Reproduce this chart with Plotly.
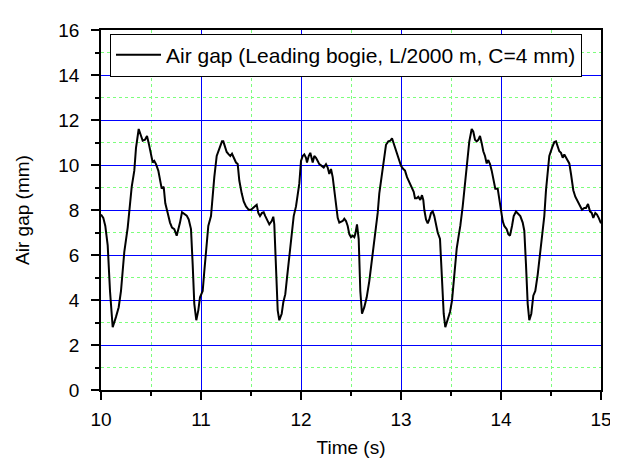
import plotly.graph_objects as go

time_s = [10.000, 10.023, 10.043, 10.067, 10.090, 10.117, 10.150, 10.177, 10.200, 10.233,
          10.267, 10.283, 10.307, 10.333, 10.350, 10.377, 10.400, 10.417, 10.440, 10.460,
          10.477, 10.490, 10.517, 10.533, 10.550, 10.573, 10.593, 10.607, 10.627, 10.643,
          10.667, 10.690, 10.710, 10.733, 10.757, 10.777, 10.790, 10.810, 10.833, 10.857,
          10.877, 10.900, 10.917, 10.933, 10.953, 10.973, 10.990, 11.017, 11.033, 11.050,
          11.073, 11.100, 11.117, 11.133, 11.157, 11.183, 11.210, 11.223, 11.240, 11.257,
          11.277, 11.293, 11.310, 11.327, 11.350, 11.367, 11.383, 11.407, 11.427, 11.450,
          11.477, 11.500, 11.517, 11.540, 11.557, 11.573, 11.590, 11.610, 11.627, 11.643,
          11.667, 11.683, 11.707, 11.723, 11.733, 11.750, 11.767, 11.783, 11.807, 11.823,
          11.843, 11.860, 11.883, 11.907, 11.927, 11.950, 11.973, 11.983, 12.000, 12.017,
          12.033, 12.050, 12.060, 12.077, 12.093, 12.107, 12.117, 12.133, 12.150, 12.167,
          12.183, 12.207, 12.227, 12.250, 12.267, 12.283, 12.300, 12.317, 12.333, 12.350,
          12.367, 12.383, 12.400, 12.417, 12.433, 12.450, 12.467, 12.483, 12.500, 12.517,
          12.533, 12.543, 12.560, 12.577, 12.593, 12.610, 12.633, 12.657, 12.683, 12.717,
          12.743, 12.767, 12.783, 12.807, 12.827, 12.850, 12.873, 12.893, 12.910, 12.927,
          12.943, 12.960, 12.977, 13.000, 13.023, 13.040, 13.060, 13.077, 13.093, 13.110,
          13.127, 13.140, 13.157, 13.173, 13.193, 13.210, 13.223, 13.233, 13.250, 13.267,
          13.283, 13.300, 13.317, 13.333, 13.350, 13.367, 13.390, 13.410, 13.427, 13.443,
          13.467, 13.490, 13.510, 13.533, 13.557, 13.577, 13.593, 13.617, 13.633, 13.650,
          13.667, 13.683, 13.707, 13.723, 13.740, 13.757, 13.773, 13.790, 13.807, 13.823,
          13.840, 13.857, 13.873, 13.890, 13.907, 13.927, 13.943, 13.967, 13.983, 14.000,
          14.017, 14.033, 14.057, 14.073, 14.090, 14.110, 14.127, 14.150, 14.173, 14.193,
          14.217, 14.233, 14.250, 14.267, 14.283, 14.303, 14.323, 14.343, 14.367, 14.390,
          14.410, 14.433, 14.450, 14.467, 14.483, 14.510, 14.533, 14.550, 14.567, 14.583,
          14.600, 14.617, 14.633, 14.650, 14.667, 14.683, 14.700, 14.723, 14.743, 14.767,
          14.790, 14.810, 14.833, 14.850, 14.870, 14.890, 14.907, 14.923, 14.943, 14.960,
          14.977, 15.000]

air_gap_mm = [7.80, 7.65, 7.29, 6.43, 4.40, 2.79, 3.25, 3.68, 4.40, 6.14,
              7.22, 7.87, 9.03, 9.75, 10.76, 11.60, 11.34, 11.08, 11.12, 11.29,
              10.97, 10.64, 10.11, 10.18, 10.04, 9.75, 9.17, 8.95, 9.03, 8.30,
              7.87, 7.44, 7.22, 7.15, 6.86, 7.15, 7.44, 7.90, 7.84, 7.75,
              7.58, 7.15, 5.56, 3.83, 3.10, 3.54, 4.12, 4.40, 5.27, 6.14,
              7.29, 7.73, 8.74, 9.46, 10.40, 10.76, 11.05, 11.05, 10.76, 10.58,
              10.47, 10.40, 10.50, 10.32, 10.11, 10.04, 9.31, 8.74, 8.38, 8.16,
              8.01, 8.01, 8.09, 8.16, 8.23, 7.87, 7.73, 7.87, 7.90, 7.73,
              7.51, 7.36, 7.51, 7.70, 7.36, 5.13, 3.54, 3.10, 3.39, 3.90,
              4.26, 4.98, 5.85, 6.71, 7.73, 8.16, 8.88, 9.17, 10.18, 10.40,
              10.47, 10.32, 10.11, 10.40, 10.54, 10.32, 10.11, 10.40, 10.32, 10.18,
              10.04, 9.96, 9.89, 10.04, 9.89, 9.60, 9.82, 9.46, 8.81, 8.16,
              7.65, 7.44, 7.47, 7.51, 7.61, 7.51, 7.29, 6.93, 6.79, 6.86,
              6.79, 6.93, 7.36, 6.71, 4.40, 3.39, 3.68, 4.12, 4.84, 5.99,
              7.00, 7.87, 8.74, 9.46, 10.18, 10.90, 11.05, 11.08, 11.19, 10.97,
              10.69, 10.54, 10.25, 9.96, 9.82, 9.75, 9.46, 9.31, 9.17, 8.95,
              8.81, 8.52, 8.52, 8.59, 8.45, 8.66, 8.45, 8.01, 7.58, 7.41,
              7.58, 7.87, 7.94, 7.73, 7.36, 7.00, 6.71, 5.13, 3.39, 2.79,
              3.10, 3.47, 3.97, 5.13, 6.28, 6.86, 7.29, 8.16, 8.88, 9.60,
              10.18, 11.05, 11.60, 11.48, 11.12, 11.05, 11.12, 11.29, 10.97, 10.61,
              10.40, 10.07, 10.22, 10.04, 9.75, 9.24, 8.95, 8.95, 8.45, 7.87,
              7.51, 7.29, 7.15, 6.93, 6.86, 7.29, 7.73, 7.93, 7.84, 7.73,
              7.44, 7.08, 5.56, 3.83, 3.10, 3.39, 4.19, 4.40, 5.13, 6.14,
              7.00, 7.73, 8.88, 9.60, 10.40, 10.76, 11.02, 11.05, 10.79, 10.61,
              10.54, 10.32, 10.47, 10.32, 10.18, 10.07, 9.60, 8.88, 8.59, 8.38,
              8.16, 8.01, 8.09, 8.09, 8.27, 7.94, 7.87, 7.65, 7.87, 7.80,
              7.65, 7.41]

series_name = "Air gap (Leading bogie, L/2000 m, C=4 mm)"
x_title = "Time (s)"
y_title = "Air gap (mm)"
x_range = [10, 15]
y_range = [0, 16]

FONT = "Liberation Sans, Arial, sans-serif"
MAJOR = "#0000ff"
MINOR = "#7cff7c"

fig = go.Figure()
fig.add_trace(go.Scatter(
    x=time_s, y=air_gap_mm, mode="lines", name=series_name,
    line=dict(color="black", width=2),
))

axis_common = dict(
    showline=True, linecolor="black", linewidth=1.5, mirror=True,
    ticks="outside", ticklen=8, tickwidth=1.5, tickcolor="black",
    showgrid=True, gridcolor=MAJOR, gridwidth=1,
    zeroline=False, layer="below traces",
    tickfont=dict(family=FONT, size=19, color="black"),
    title_font=dict(family=FONT, size=19, color="black"),
)

fig.update_xaxes(
    range=x_range, tick0=10, dtick=1, ticklabelstandoff=3,
    title_text=x_title, title_standoff=12,
    minor=dict(dtick=0.5, tick0=10, ticks="outside", ticklen=4, tickwidth=1.5,
               tickcolor="black",
               showgrid=True, gridcolor=MINOR, griddash="dot", gridwidth=1),
    **axis_common,
)
fig.update_yaxes(
    range=y_range, tick0=0, dtick=2, ticklabelstandoff=8,
    title_text=y_title, title_standoff=24,
    minor=dict(dtick=1, tick0=0, ticks="outside", ticklen=4, tickwidth=1.5,
               tickcolor="black",
               showgrid=True, gridcolor=MINOR, griddash="dot", gridwidth=1),
    **axis_common,
)

fig.update_layout(
    width=618, height=459,
    margin=dict(l=93, r=25, t=19, b=71),
    plot_bgcolor="white", paper_bgcolor="white",
    showlegend=True,
    legend=dict(
        x=0.018, y=0.99, xanchor="left", yanchor="top",
        bgcolor="white", bordercolor="black", borderwidth=1,
        font=dict(family=FONT, size=21, color="black"),
        itemwidth=45,
    ),
)

fig.write_html("out.html")
